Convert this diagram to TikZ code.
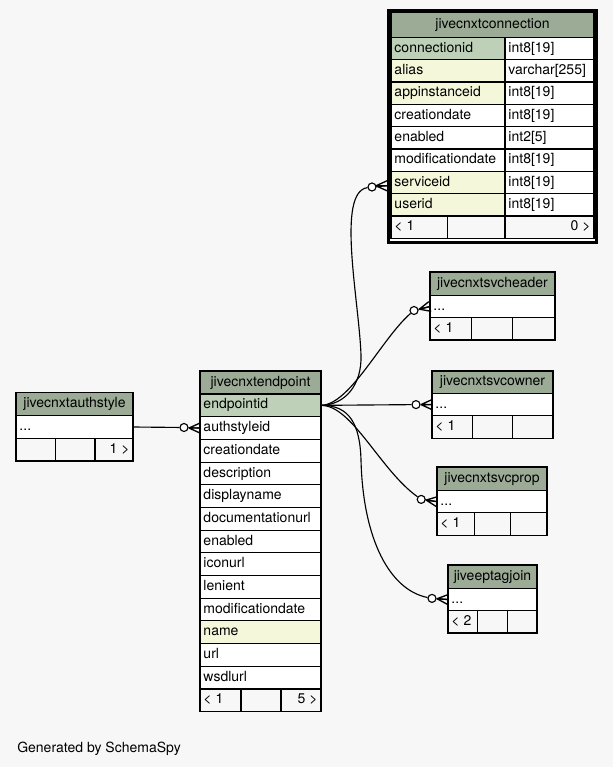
\documentclass[tikz,border=0pt]{standalone}
\usepackage{fontspec}
\setmainfont{TeX Gyre Heros}
\usetikzlibrary{fit}
\definecolor{bg}{HTML}{F7F7F7}
\definecolor{hdr}{HTML}{9BAB96}
\definecolor{pk}{HTML}{BED1B8}
\definecolor{idx}{HTML}{F4F7DA}
\tikzset{
  cell/.style={rectangle, draw=black, line width=0.85pt, inner sep=0pt, outer sep=0pt},
  ctext/.style={font=\fontsize{10.5pt}{12pt}\selectfont, inner sep=0pt, text=black},
  conn/.style={draw=black, line width=0.85pt},
  odot/.style={circle, draw=black, fill=white, line width=0.85pt, minimum size=6pt, inner sep=0pt},
  crow/.pic={\draw[line width=1pt] (-11,0) -- (0,5) (-11,0) -- (0,-5) (-11,0) -- (0,0);}
}
\newcommand\cellL[7]{%
  \node[cell, fill=#6, fit={(#2,#3) (#4,#5)}] (#1) {};
  \node[ctext, anchor=base west] (#1t) at ([xshift=2.4pt, yshift=-2.7pt]#1.west) {#7};}
\newcommand\cellR[7]{%
  \node[cell, fill=#6, fit={(#2,#3) (#4,#5)}] (#1) {};
  \node[ctext, anchor=base east] (#1t) at ([xshift=-2.4pt, yshift=-2.7pt]#1.east) {#7};}
\newcommand\cellC[7]{%
  \node[cell, fill=#6, fit={(#2,#3) (#4,#5)}] (#1) {};
  \node[ctext, anchor=base] (#1t) at ([yshift=-2.7pt]#1.center) {#7};}
\newcommand\cellE[6]{%
  \node[cell, fill=#6, fit={(#2,#3) (#4,#5)}] (#1) {};}
\begin{document}
\begin{tikzpicture}[x=0.75pt, y=-0.75pt]
\fill[bg] (0,0) rectangle (613,767);
\useasboundingbox (0,0) rectangle (613,767);

% ---- jivecnxtconnection ----
\node[draw=black, line width=2.2pt, fill=white, inner sep=0pt, fit={(388.5,10.5) (596.5,242.5)}] (cnframe) {};
\cellC{cnh}{391}{12.3}{594}{37.3}{hdr}{jivecnxtconnection}
\cellL{cn0}{391}{37.3}{505}{59.6}{pk}{connectionid}
\cellL{cn0v}{505}{37.3}{594}{59.6}{white}{int8[19]}
\cellL{cn1}{391}{59.6}{505}{82.0}{idx}{alias}
\cellL{cn1v}{505}{59.6}{594}{82.0}{white}{varchar[255]}
\cellL{cn2}{391}{82.0}{505}{104.3}{idx}{appinstanceid}
\cellL{cn2v}{505}{82.0}{594}{104.3}{white}{int8[19]}
\cellL{cn3}{391}{104.3}{505}{126.6}{white}{creationdate}
\cellL{cn3v}{505}{104.3}{594}{126.6}{white}{int8[19]}
\cellL{cn4}{391}{126.6}{505}{149.0}{white}{enabled}
\cellL{cn4v}{505}{126.6}{594}{149.0}{white}{int2[5]}
\cellL{cn5}{391}{149.0}{505}{171.3}{white}{modificationdate}
\cellL{cn5v}{505}{149.0}{594}{171.3}{white}{int8[19]}
\cellL{cn6}{391}{171.3}{505}{193.6}{idx}{serviceid}
\cellL{cn6v}{505}{171.3}{594}{193.6}{white}{int8[19]}
\cellL{cn7}{391}{193.6}{505}{216.0}{idx}{userid}
\cellL{cn7v}{505}{193.6}{594}{216.0}{white}{int8[19]}
\cellL{cnf1}{391}{216.0}{447.7}{238.3}{bg}{< 1}
\cellE{cnf2}{447.7}{216.0}{505}{238.3}{bg}
\cellR{cnf3}{505}{216.0}{594}{238.3}{bg}{0 >}

% ---- jivecnxtsvcheader ----
\cellC{shh}{430}{272}{555}{295.5}{hdr}{jivecnxtsvcheader}
\cellL{sh1}{430}{295.5}{555}{317.5}{white}{...}
\cellL{shf1}{430}{317.5}{471.7}{340}{bg}{< 1}
\cellE{shf2}{471.7}{317.5}{512.7}{340}{bg}
\cellE{shf3}{512.7}{317.5}{555}{340}{bg}

% ---- jivecnxtsvcowner ----
\cellC{swh}{432}{371}{553}{393.5}{hdr}{jivecnxtsvcowner}
\cellL{sw1}{432}{393.5}{553}{415.7}{white}{...}
\cellL{swf1}{432}{415.7}{472.7}{438.3}{bg}{< 1}
\cellE{swf2}{472.7}{415.7}{512.7}{438.3}{bg}
\cellE{swf3}{512.7}{415.7}{553}{438.3}{bg}

% ---- jivecnxtsvcprop ----
\cellC{sph}{437}{467}{547}{490.5}{hdr}{jivecnxtsvcprop}
\cellL{sp1}{437}{490.5}{547}{512.7}{white}{...}
\cellL{spf1}{437}{512.7}{474.3}{535.5}{bg}{< 1}
\cellE{spf2}{474.3}{512.7}{510.7}{535.5}{bg}
\cellE{spf3}{510.7}{512.7}{547}{535.5}{bg}

% ---- jiveeptagjoin ----
\cellC{ejh}{448}{565}{537}{588.3}{hdr}{jiveeptagjoin}
\cellL{ej1}{448}{588.3}{537}{610.7}{white}{...}
\cellL{ejf1}{448}{610.7}{477.7}{633}{bg}{< 2}
\cellE{ejf2}{477.7}{610.7}{507.3}{633}{bg}
\cellE{ejf3}{507.3}{610.7}{537}{633}{bg}

% ---- jivecnxtauthstyle ----
\cellC{ash}{16}{392.3}{133}{415.7}{hdr}{jivecnxtauthstyle}
\cellL{as1}{16}{415.7}{133}{438.3}{white}{...}
\cellE{asf1}{16}{438.3}{55.7}{461}{bg}
\cellE{asf2}{55.7}{438.3}{95}{461}{bg}
\cellR{asf3}{95}{438.3}{133}{461}{bg}{1 >}

% ---- jivecnxtendpoint ----
\cellC{eph}{200}{371}{321}{394}{hdr}{jivecnxtendpoint}
\cellL{ep0}{200}{394}{321}{416.69}{pk}{endpointid}
\cellL{ep1}{200}{416.69}{321}{439.38}{white}{authstyleid}
\cellL{ep2}{200}{439.38}{321}{462.07}{white}{creationdate}
\cellL{ep3}{200}{462.07}{321}{484.76}{white}{description}
\cellL{ep4}{200}{484.76}{321}{507.45}{white}{displayname}
\cellL{ep5}{200}{507.45}{321}{530.14}{white}{documentationurl}
\cellL{ep6}{200}{530.14}{321}{552.83}{white}{enabled}
\cellL{ep7}{200}{552.83}{321}{575.52}{white}{iconurl}
\cellL{ep8}{200}{575.52}{321}{598.21}{white}{lenient}
\cellL{ep9}{200}{598.21}{321}{620.9}{white}{modificationdate}
\cellL{ep10}{200}{620.9}{321}{643.59}{idx}{name}
\cellL{ep11}{200}{643.59}{321}{666.28}{white}{url}
\cellL{ep12}{200}{666.28}{321}{688.97}{white}{wsdlurl}
\cellL{epf1}{200}{688.97}{241}{711.66}{bg}{< 1}
\cellE{epf2}{241}{688.97}{281}{711.66}{bg}
\cellR{epf3}{281}{688.97}{321}{711.66}{bg}{5 >}

% ---- footer text ----
\node[ctext, anchor=base west] (gen) at (17,752) {Generated by SchemaSpy};

% ---- connectors ----
\coordinate (t1) at ([xshift=-3pt, yshift=-2.5pt]cn6.west);
\node[odot] (o1) at (372,187) {};
\node[odot] (o2) at (414,310.5) {};
\node[odot] (o3) at (416,404.6) {};
\node[odot] (o4) at (421.2,499.4) {};
\node[odot] (o5) at (432,598.4) {};
\node[odot] (o6) at (184,427.5) {};

\draw[conn] (ep0.east) .. controls (345,405) and (362,385) .. (361,355)
   .. controls (359,300) and (336,192) .. (o1);
\draw[conn] (o1) -- (t1);
\pic at (t1) {crow};

\draw[conn] (ep0.east) .. controls (350,405) and (382,338) .. (o2);
\draw[conn] (o2) -- (sh1.west);
\pic[rotate=14] at (sh1.west) {crow};

\draw[conn] (ep0.east) -- (o3);
\draw[conn] (o3) -- (sw1.west);
\pic at (sw1.west) {crow};

\draw[conn] (ep0.east) .. controls (352,405) and (380,470) .. (o4);
\draw[conn] (o4) -- (sp1.west);
\pic[rotate=-8] at (sp1.west) {crow};

\draw[conn] (ep0.east) .. controls (350,405) and (360,425) .. (361,460)
   .. controls (363,540) and (390,590) .. (o5);
\draw[conn] (o5) -- (ej1.west);
\pic[rotate=-4] at (ej1.west) {crow};

\draw[conn] (as1.east) -- (o6);
\draw[conn] (o6) -- (ep1.west);
\pic at (ep1.west) {crow};
\end{tikzpicture}
\end{document}
